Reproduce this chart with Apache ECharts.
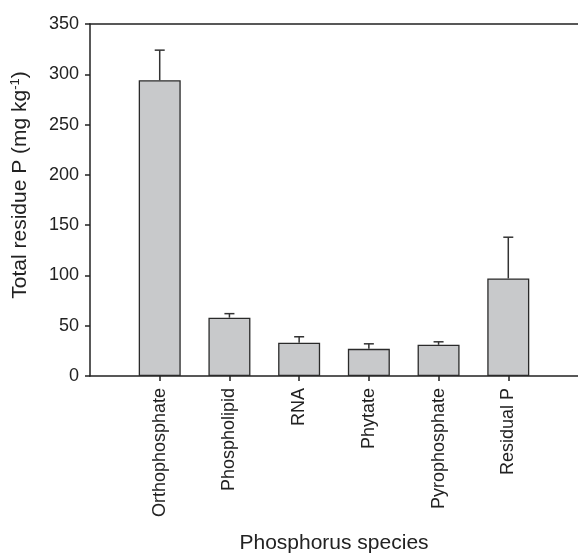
<!DOCTYPE html>
<html>
<head>
<meta charset="utf-8">
<script src="https://cdn.jsdelivr.net/npm/echarts@6/dist/echarts.min.js"></script>
<style>html,body{margin:0;padding:0;background:#fff;}#c{width:578px;height:554px;}</style>
</head>
<body>
<div id="c"></div>
<script>
const categories = ['Orthophosphate', 'Phospholipid', 'RNA', 'Phytate', 'Pyrophosphate', 'Residual P'];
const means = [294, 58, 33, 27, 31, 97];
const errors = [30, 4, 6, 5, 3, 41];
const yTicks = [0, 50, 100, 150, 200, 250, 300, 350];

const axisCats = [''].concat(categories, ['']);
const barData = ['-'].concat(means, ['-']);
const errData = categories.map((c, i) => [i + 1, means[i], means[i] + errors[i]]);
const FONT = '"Liberation Sans", Arial, Helvetica, sans-serif';
const ink = '#222';

const chart = echarts.init(document.getElementById('c'), null, {renderer: 'canvas'});
chart.setOption({
  animation: false,
  backgroundColor: '#fff',
  grid: {left: 90, right: 0, top: 24, bottom: 178, containLabel: false, outerBoundsMode: 'none'},
  xAxis: [{
    type: 'category',
    data: axisCats,
    boundaryGap: false,
    name: 'Phosphorus species',
    nameLocation: 'middle',
    nameGap: 157,
    nameTextStyle: {fontFamily: FONT, fontSize: 21, color: ink},
    axisLine: {lineStyle: {color: ink, width: 1.5}},
    axisTick: {show: true, length: 5, inside: false, lineStyle: {color: ink, width: 1.5},
      interval: function (idx, val) { return val !== ''; }},
    axisLabel: {rotate: 90, fontFamily: FONT, fontSize: 18, color: ink, margin: 12, interval: 0},
    splitLine: {show: false}
  }, {
    type: 'category',
    data: axisCats,
    boundaryGap: false,
    position: 'top',
    axisLine: {lineStyle: {color: ink, width: 1.5}},
    axisTick: {show: false},
    axisLabel: {show: false},
    splitLine: {show: false}
  }],
  yAxis: {
    type: 'value',
    min: yTicks[0],
    max: yTicks[yTicks.length - 1],
    interval: 50,
    name: '{a|Total residue P (mg kg}{s|-1}{a|)}',
    nameLocation: 'middle',
    nameGap: 58,
    nameRotate: 90,
    nameTextStyle: {
      fontFamily: FONT, fontSize: 21, color: ink,
      padding: [0, 0, 0, 30],
      rich: {
        a: {fontFamily: FONT, fontSize: 21, color: ink},
        s: {fontFamily: FONT, fontSize: 13, color: ink, verticalAlign: 'top', padding: [0, 0, 10, 0]}
      }
    },
    axisLine: {show: true, lineStyle: {color: ink, width: 1.5}},
    axisTick: {show: true, length: 5, lineStyle: {color: ink, width: 1.5}},
    axisLabel: {fontFamily: FONT, fontSize: 18, color: ink, margin: 11},
    splitLine: {show: false}
  },
  series: [{
    type: 'bar',
    data: barData,
    barWidth: 42,
    itemStyle: {color: '#c8c9cb', borderColor: '#2a2a2a', borderWidth: 1.3},
    z: 2
  }, {
    type: 'custom',
    data: errData,
    encode: {x: 0, y: [1, 2]},
    z: 3,
    renderItem: function (params, api) {
      const x = api.value(0);
      const p0 = api.coord([x, api.value(1)]);
      const p1 = api.coord([x, api.value(2)]);
      const hw = 5;
      const style = {stroke: '#333', lineWidth: 1.5, fill: null};
      return {
        type: 'group',
        children: [
          {type: 'line', shape: {x1: p0[0], y1: p0[1], x2: p1[0], y2: p1[1]}, style: style},
          {type: 'line', shape: {x1: p1[0] - hw, y1: p1[1], x2: p1[0] + hw, y2: p1[1]}, style: style}
        ]
      };
    }
  }]
});
</script>
</body>
</html>
